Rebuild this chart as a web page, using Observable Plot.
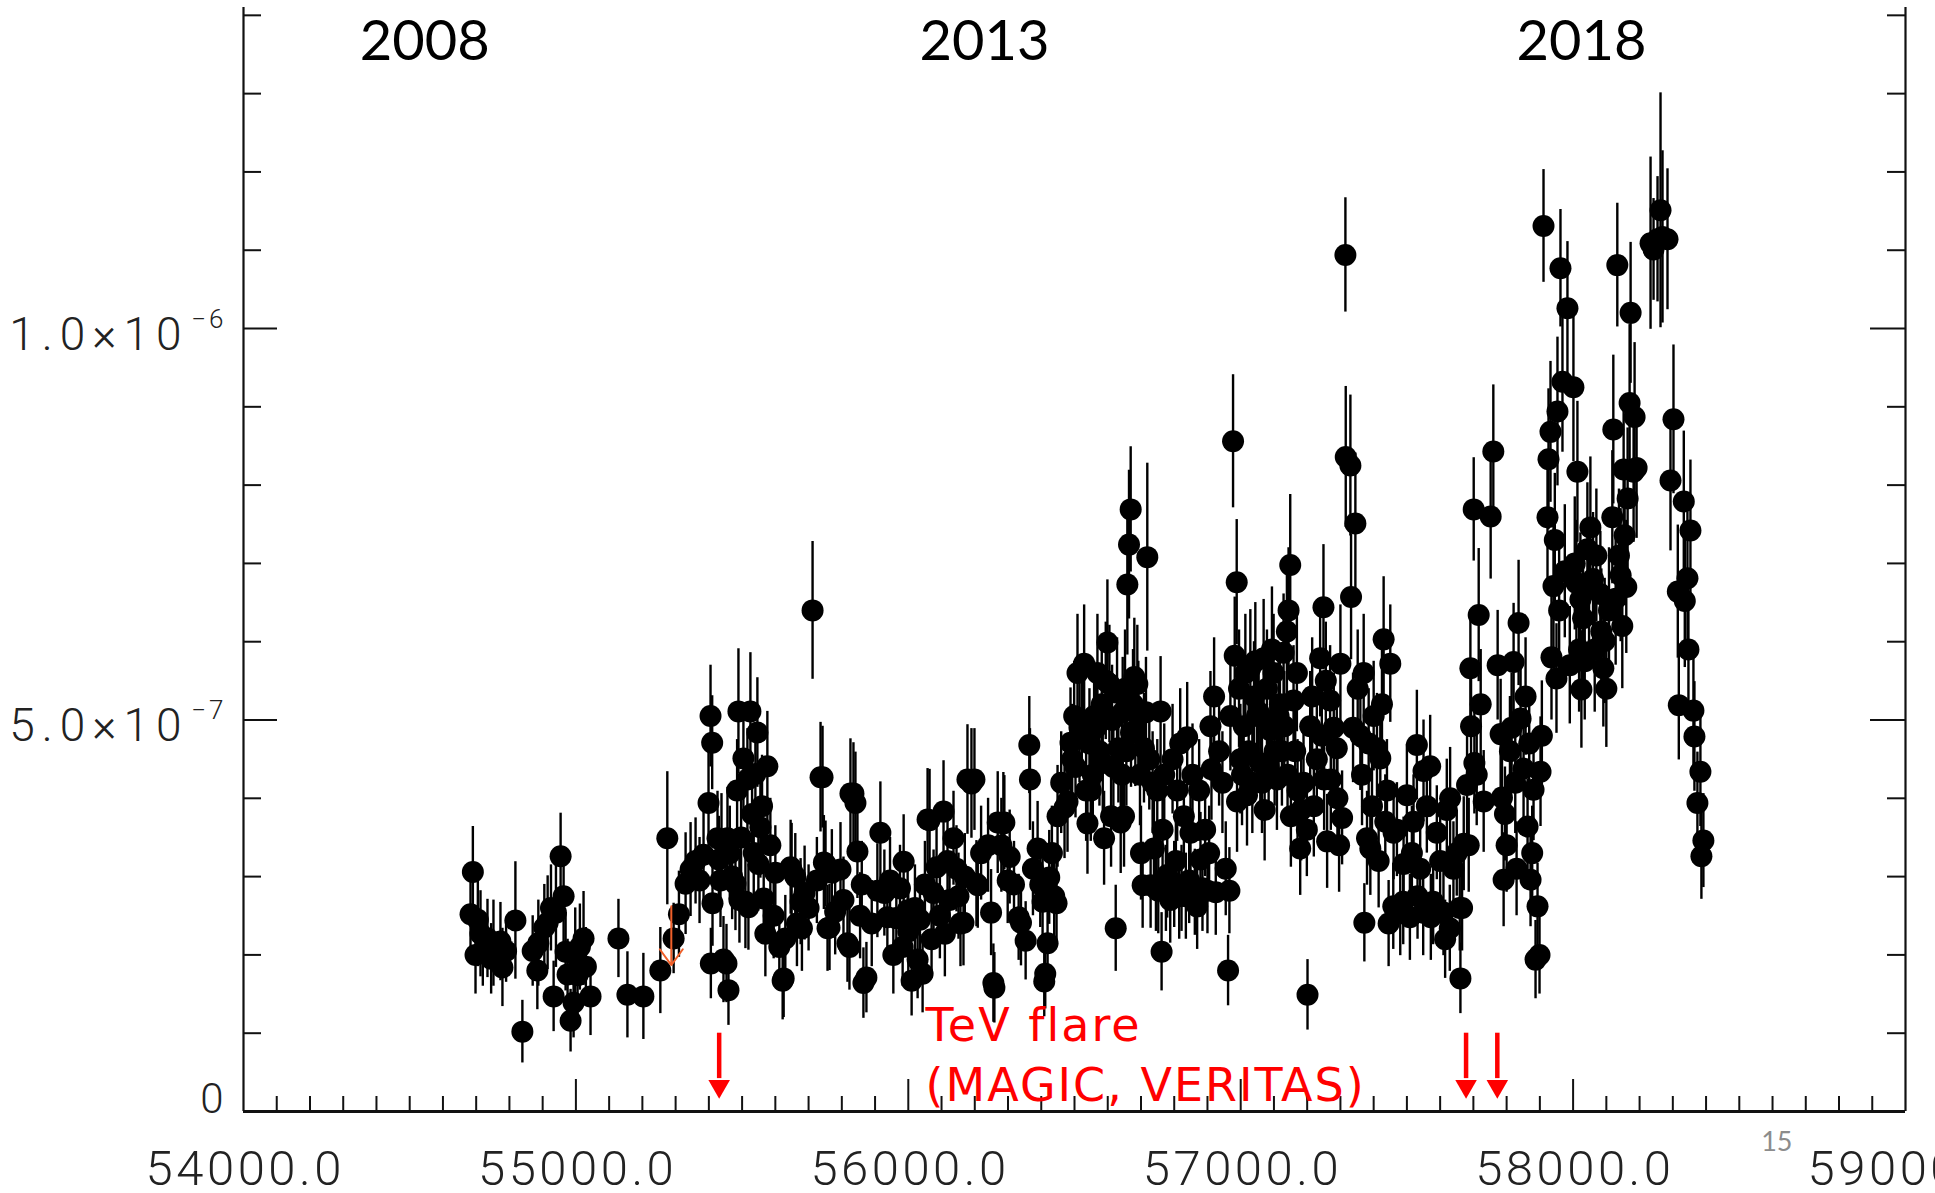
<!DOCTYPE html>
<html>
<head>
<meta charset="utf-8">
<script src="https://cdn.jsdelivr.net/npm/d3@7"></script>
<script src="https://cdn.jsdelivr.net/npm/@observablehq/plot@0.6"></script>
<style>
  html, body { margin: 0; padding: 0; background: #fff; overflow: hidden; }
</style>
</head>
<body>
<div id="chart"></div>
<script>
// Gamma-ray light curve, binned: [MJD, flux (1e-7 ph cm^-2 s^-1), 1-sigma error]
const lc2008 = [
  [54683,2.52,.55],[54690,3.06,.58],[54698,2.00,.50],[54705,2.45,.60],[54713,2.27,.55],[54720,2.05,.45],
  [54734,2.21,.50],[54745,1.95,.45],[54752,2.15,.55],[54773,2.17,.50],[54779,1.84,.50],[54790,2.05,.40],
  [54818,2.44,.75],[54839,1.02,.40],[54870,2.05,.45],[54884,1.80,.50],[54887,2.15,.55],[54905,2.35,.55],
  [54915,2.41,.60],[54925,2.60,.55],[54933,1.47,.45],[54940,2.54,.70],[54954,3.26,.55],[54963,2.75,.60],
  [54969,2.04,.50],[54975,1.75,.45],[54984,1.16,.40],[54993,1.39,.45],[54998,2.00,.60],[55005,1.74,.50],
  [55012,2.10,.55],[55023,2.21,.60],[55030,1.85,.50],[55044,1.47,.50],[55128,2.21,.50],[55155,1.49,.55],
  [55203,1.47,.55],[55254,1.80,.55],[55275,3.49,.85],[55294,2.21,.45],[55310,2.52,.55],[55330,2.91,.65],
  [55345,3.09,.60],[55360,3.20,.55],[55372,2.95,.55],[55384,3.28,.60],[55399,3.94,.65]
];
const lc2010 = [
  [55405,5.05,.65],[55406,1.89,.45],[55410,4.71,.60],[55411,2.66,.55],[55426,3.49,.60],[55430,3.22,.55],
  [55435,2.95,.60],[55438,3.46,.60],[55444,1.94,.55],[55453,1.89,.50],[55456,3.49,.65],[55459,1.55,.45],
  [55463,3.30,.60],[55470,3.00,.55],[55480,2.91,.60],[55485,4.10,.65],[55489,5.11,.80],[55492,2.70,.55],
  [55497,3.50,.60],[55504,4.51,.70],[55510,2.68,.60],[55516,4.24,.65],[55519,2.61,.55],[55525,5.11,.75],
  [55530,3.80,.70],[55535,3.30,.60],[55540,4.31,.65],[55546,4.84,.70],[55549,3.16,.60],[55555,3.63,.65],
  [55560,3.90,.65],[55565,2.72,.55],[55570,2.27,.55],[55576,4.41,.70],[55585,3.40,.60],[55595,2.50,.55],
  [55600,3.05,.60],[55612,2.10,.50],[55622,1.67,.50],[55625,1.70,.50],[55630,2.21,.55],[55646,3.12,.60],
  [55649,3.08,.60],[55660,3.00,.55],[55665,2.40,.55],[55676,2.68,.55],[55680,2.34,.55],[55688,2.79,.60],
  [55700,2.60,.55],[55712,6.40,.88],[55725,2.95,.55],[55736,4.27,.70],[55742,4.27,.65],[55746,3.18,.60],
  [55751,3.16,.55],[55757,2.34,.55],[55763,2.35,.55],[55770,3.05,.55],[55780,2.55,.55],[55796,3.09,.60],
  [55805,2.70,.55],[55817,2.15,.50],[55823,2.10,.55],[55826,4.06,.70],[55835,4.06,.65],[55841,3.94,.65],
  [55847,3.32,.60],[55855,2.50,.55],[55860,2.90,.55],[55865,1.64,.45],[55874,1.71,.45],[55890,2.40,.55],
  [55907,2.82,.60],[55916,3.56,.65],[55928,2.79,.55],[55937,2.48,.55],[55945,2.95,.55],[55955,2.00,.50],
  [55964,2.47,.55],[55975,2.85,.55],[55983,2.10,.50],[55986,3.19,.60],[55998,2.57,.55],[56000,2.30,.55],
  [56010,1.67,.45],[56020,2.60,.55],[56028,1.94,.50],[56035,2.45,.55],[56043,1.76,.50],[56050,2.90,.55],
  [56058,3.73,.65],[56064,3.72,.65],[56070,2.20,.50],[56076,2.79,.55],[56085,3.12,.60],[56095,2.50,.55],
  [56106,3.83,.65],[56110,2.27,.55],[56118,3.20,.60],[56124,2.70,.55],[56136,3.49,.60],[56145,3.10,.55],
  [56151,2.75,.55],[56157,2.40,.55],[56166,2.41,.55],[56170,3.00,.55],[56178,4.24,.70]
];
const lc2013 = [
  [56190,4.19,.70],[56199,4.24,.65],[56205,2.91,.55],[56209,2.89,.55],[56219,3.30,.60],[56240,3.40,.60],
  [56249,2.54,.55],[56256,1.64,.50],[56259,1.58,.45],[56269,3.69,.65],[56280,3.40,.60],[56286,3.68,.65],
  [56289,3.69,.60],[56299,2.95,.55],[56305,3.25,.60],[56318,2.90,.55],[56332,2.48,.55],[56339,2.41,.55],
  [56353,2.18,.50],[56364,4.68,.62],[56366,4.24,.65],[56375,3.10,.60],[56389,3.36,.60],[56397,2.90,.55],
  [56404,2.68,.55],[56409,1.66,.45],[56412,1.76,.45],[56419,2.15,.50],[56424,2.99,.60],[56432,3.30,.60],
  [56439,2.75,.55],[56446,2.66,.55],[56449,3.77,.65],[56460,4.20,.65],[56470,3.88,.65],[56479,3.96,.65],
  [56488,4.71,.70],[56493,4.50,.70],[56499,5.05,.70],[56503,4.40,.65],[56509,5.60,.75],[56515,4.90,.70],
  [56522,5.00,.70],[56529,5.72,.75],[56535,4.10,.65],[56539,3.68,.65],[56545,4.70,.70],[56549,4.10,.65],
  [56555,4.30,.65],[56559,5.05,.70],[56565,4.90,.70],[56569,5.60,.75],[56575,4.60,.70],[56582,5.20,.70],
  [56585,4.45,.65],[56589,3.49,.60],[56594,5.50,.75],[56599,5.99,.80],[56605,5.46,.75],[56610,3.77,.65],
  [56613,5.00,.70],[56617,4.40,.65],[56624,2.34,.55],[56628,5.35,.70],[56632,4.64,.70],[56639,3.69,.65],
  [56643,4.30,.65],[56645,5.10,.70],[56649,3.77,.65],[56652,5.40,.75],[56656,4.60,.70],[56659,6.73,.90],
  [56664,7.24,.95],[56669,7.69,.80],[56670,4.84,.70],[56676,5.20,.70],[56680,5.55,.75],[56683,4.85,.70],
  [56689,5.46,.75],[56692,5.05,.70],[56697,4.30,.65],[56700,3.30,.60],[56705,2.89,.55],[56709,4.64,.70],
  [56715,5.10,.70],[56719,7.08,1.20],[56725,4.50,.65],[56729,2.89,.55],[56735,4.20,.65],[56739,3.36,.60],
  [56745,2.85,.55],[56749,4.10,.65],[56752,2.82,.55],[56759,5.11,.70],[56762,2.04,.50],[56765,3.60,.60],
  [56770,4.30,.65],[56775,2.85,.55],[56779,3.02,.55],[56788,2.70,.55],[56795,4.50,.70],[56800,2.90,.55],
  [56805,3.20,.60],[56809,4.10,.65],[56815,2.75,.55],[56818,4.70,.70],[56822,2.85,.55],[56829,3.77,.60],
  [56835,2.75,.55],[56839,4.78,.70],[56845,2.95,.55],[56849,3.56,.60],[56855,4.30,.65],[56862,2.80,.55],
  [56869,2.62,.55],[56875,4.10,.65],[56879,3.22,.60],[56885,2.85,.55],[56893,3.60,.60],[56900,2.82,.55],
  [56905,3.30,.60],[56909,4.92,.70],[56912,4.37,.65],[56920,5.30,.75],[56925,2.80,.55],[56935,4.60,.70],
  [56945,4.20,.65],[56955,3.10,.60]
];
const lc2015 = [
  [56962,1.80,.45],[56966,2.82,.55],[56969,5.05,.70],[56977,8.56,.85],[56982,5.82,.75],[56988,6.76,.80],
  [56989,3.96,.65],[56995,5.40,.75],[56999,4.50,.70],[57004,4.30,.65],[57009,4.92,.70],[57014,5.60,.75],
  [57019,4.04,.65],[57024,4.60,.70],[57029,5.66,.75],[57035,4.20,.65],[57040,5.30,.70],[57044,5.75,.75],
  [57049,5.05,.70],[57054,5.10,.70],[57059,4.45,.70],[57064,4.20,.65],[57069,5.79,.75],[57072,3.85,.65],
  [57079,5.40,.75],[57084,4.40,.65],[57089,4.87,.70],[57094,5.90,.80],[57099,5.60,.75],[57102,4.60,.70],
  [57109,4.24,.65],[57114,5.05,.70],[57118,5.20,.70],[57124,4.60,.70],[57129,5.86,.75],[57131,4.92,.70],
  [57139,6.13,.80],[57141,4.30,.65],[57144,6.40,.80],[57149,6.98,.90],[57151,3.77,.65],[57159,5.25,.70],
  [57164,4.60,.70],[57169,5.60,.75],[57171,4.10,.65],[57179,3.36,.60],[57182,3.85,.65],[57189,4.20,.65],
  [57199,3.60,.60],[57201,1.49,.45],[57209,4.92,.70],[57215,5.30,.75],[57220,3.90,.65],[57229,4.50,.70],
  [57239,5.79,.75],[57244,4.80,.70],[57249,6.44,.80],[57251,4.24,.65],[57256,5.50,.75],[57260,3.45,.60],
  [57269,5.25,.70],[57271,4.24,.65],[57280,4.90,.70],[57289,4.64,.70],[57291,4.00,.65],[57296,3.40,.60],
  [57300,5.72,.75],[57305,3.75,.60],[57315,10.94,.73],[57316,8.36,.90],[57330,8.25,.90],[57332,6.57,.80],
  [57338,4.90,.70],[57345,7.51,.90],[57352,5.40,.75],[57360,4.80,.70],[57365,4.30,.65],[57370,5.60,.75],
  [57372,2.41,.50],[57380,3.49,.60],[57385,4.70,.70],[57390,3.36,.60],[57395,3.90,.65],[57400,5.05,.70],
  [57410,4.64,.70],[57415,3.20,.60],[57420,4.51,.65],[57425,5.20,.70],[57430,6.03,.80],[57435,3.70,.60],
  [57440,4.10,.65],[57445,2.40,.55],[57450,5.72,.75],[57459,2.62,.55],[57460,3.56,.60],[57470,3.60,.60],
  [57480,2.54,.55],[57489,2.68,.55],[57490,3.16,.60],[57500,4.04,.65],[57509,2.48,.55],[57515,3.30,.60],
  [57520,3.70,.60],[57530,4.68,.70],[57532,2.75,.55],[57540,3.10,.55],[57549,2.54,.55],[57550,4.35,.65],
  [57560,3.90,.60],[57570,4.41,.65],[57572,2.48,.55],[57579,2.68,.55],[57590,3.56,.60],[57600,3.20,.55],
  [57610,2.54,.55],[57615,2.20,.50],[57620,3.85,.65],[57629,2.34,.55],[57630,4.00,.65],[57640,3.10,.60],
  [57650,3.30,.55],[57659,2.60,.55],[57661,1.70,.45],[57666,2.60,.55],[57671,3.42,.60],[57681,4.17,.65],
  [57686,3.40,.60],[57691,5.66,.75],[57693,4.92,.70],[57701,7.69,.66],[57703,4.45,.65],[57710,4.30,.65],
  [57716,6.34,.85],[57722,5.20,.70],[57731,3.96,.65]
];
const lc2017 = [
  [57752,7.60,.80],[57760,8.43,.85],[57773,5.70,.70],[57782,4.82,.70],[57786,4.01,.65],[57791,2.96,.60],
  [57795,3.80,.60],[57800,3.40,.60],[57810,4.60,.70],[57815,4.90,.70],[57821,5.74,.75],[57826,4.20,.65],
  [57830,3.10,.60],[57836,6.24,.80],[57842,5.02,.70],[57851,4.38,.70],[57857,5.30,.75],[57863,3.64,.60],
  [57868,4.70,.70],[57872,2.96,.60],[57877,3.30,.60],[57881,4.11,.65],[57887,1.94,.50],[57893,2.62,.55],
  [57899,2.00,.50],[57902,4.34,.70],[57906,4.80,.70],[57911,11.31,.72],[57923,7.59,.85],[57926,8.33,.90],
  [57932,8.68,.90],[57935,5.80,.80],[57941,6.71,.85],[57945,7.30,.85],[57950,5.53,.70],[57953,8.94,.95],
  [57958,6.40,.85],[57962,10.77,.75],[57968,9.32,.90],[57975,6.90,.85],[57983,10.26,.85],[57990,5.70,.75],
  [58001,9.25,.95],[58005,7.00,.85],[58010,6.75,.80],[58013,8.17,.90],[58018,5.90,.80],[58022,6.54,.85],
  [58025,5.39,.75],[58030,6.30,.80],[58035,5.75,.75],[58043,7.18,.85],[58048,6.70,.85],[58052,7.46,.90],
  [58060,6.80,.85],[58065,5.90,.80],[58070,7.10,.85],[58082,6.61,.80],[58085,6.13,.80],[58091,5.66,.75],
  [58095,6.01,.80],[58100,5.40,.75],[58108,6.40,.80],[58118,7.59,.85],[58121,8.71,.95],[58128,6.55,.85],
  [58133,10.81,.79],[58138,7.10,.85],[58143,6.85,.85],[58148,6.20,.80],[58152,8.20,.90],[58155,7.36,.90],
  [58160,6.70,.85],[58164,7.83,.90],[58170,9.05,1.00],[58173,10.20,.90],[58182,8.17,.90],[58185,8.87,.95],
  [58191,8.22,.90],[58233,11.09,1.10],[58242,11.01,.65],[58254,11.14,.80],[58263,11.51,1.50],[58269,11.17,1.10],
  [58284,11.14,.90],[58293,8.06,.90],[58302,8.84,.95],[58315,6.64,.85],[58318,5.19,.70],[58333,7.79,.90],
  [58336,6.52,.85],[58344,6.81,.85],[58347,5.90,.80],[58353,7.42,.90],[58362,5.12,.70],[58365,4.79,.70],
  [58374,3.94,.65],[58383,4.34,.70],[58386,3.26,.55],[58392,3.46,.60]
];

// Upper limit (flux from → to, 1e-7 units)
const upperLimit = [{mjd: 55287, from: 2.62, to: 1.87}];

// TeV flare epochs and the arrow extent (flux units)
const flareMjd = [55431, 57678, 57772];
const arrowTop = 1.0, arrowTip = 0.17;
const flareNote = [{mjd: 56052, flux: 0.14, label: "TeV flare\n(MAGIC, VERITAS)"}];

// Year markers along the top
const years = ["2008", "2013", "2018"];
const yearMjd = [54545, 56229, 58025];

// Axis ticks and labels
const xLabelValues = [54000, 55000, 56000, 57000, 58000, 59000];
const xMajor = [55000, 56000, 57000, 58000];
const xMinor = d3.range(54100, 59000, 100).filter(d => d % 1000 !== 0);
const yMajor = [5, 10];
const yMinor = [1, 2, 3, 4, 6, 7, 8, 9, 11, 12, 13, 14];
const yLabels = [
  {v: 5, main: "5.0×10", exp: "−7"},
  {v: 10, main: "1.0×10", exp: "−6"}
];
const pageNumber = [{mjd: 58613, label: "15"}];

const rows = [...lc2008, ...lc2010, ...lc2013, ...lc2015, ...lc2017]
  .map(([mjd, flux, err]) => ({mjd, flux, err}));

const W = 1935, H = 1193;
const mL = 243, mR = 30, mT = 7, mB = 82;
const frameW = W - mL - mR;
const frameH = H - mT - mB;

const tickFont = "Roboto, 'Liberation Sans', sans-serif";
const axisInk = "#111";

// letter spacing (px) for the wide axis lettering and the note
const xLabelSpacing = 3.5, yLabelSpacing = 7, expSpacing = 3, noteSpacing = 2;

const chart = Plot.plot({
  width: W,
  height: H,
  marginLeft: mL,
  marginRight: mR,
  marginTop: mT,
  marginBottom: mB,
  x: {domain: [54000, 59000], axis: null},
  y: {domain: [0, 14.1], axis: null},
  style: {background: "#fff", overflow: "visible"},
  marks: [
    // frame: left, right and bottom axes
    Plot.ruleX([54000, 59000], {x: d => d, stroke: axisInk, strokeWidth: 2.2}),
    Plot.ruleY([0], {y: d => d, stroke: axisInk, strokeWidth: 2.8}),

    // inward ticks, left axis
    Plot.tickY(yMinor, {y: d => d, insetRight: frameW - 18, stroke: axisInk, strokeWidth: 2}),
    Plot.tickY(yMajor, {y: d => d, insetRight: frameW - 34, stroke: axisInk, strokeWidth: 2}),
    // inward ticks, right axis
    Plot.tickY(yMinor, {y: d => d, insetLeft: frameW - 18, stroke: axisInk, strokeWidth: 2}),
    Plot.tickY(yMajor, {y: d => d, insetLeft: frameW - 35, stroke: axisInk, strokeWidth: 2}),
    // inward ticks, bottom axis
    Plot.tickX(xMinor, {x: d => d, insetTop: frameH - 15, stroke: axisInk, strokeWidth: 2}),
    Plot.tickX(xMajor, {x: d => d, insetTop: frameH - 32, stroke: axisInk, strokeWidth: 2}),

    // x tick labels
    Plot.text(xLabelValues, {
      x: d => d, text: d => d.toFixed(1), frameAnchor: "bottom", dx: xLabelSpacing / 2, dy: 73, lineAnchor: "bottom",
      fontSize: 49, fontFamily: tickFont, fontWeight: 300, fill: "#222"
    }),
    // y tick labels with superscript exponent
    Plot.text(yLabels, {
      frameAnchor: "left", y: "v", text: "main", textAnchor: "end", dx: -62 + yLabelSpacing, dy: 21, lineAnchor: "bottom",
      fontSize: 46, fontFamily: tickFont, fontWeight: 300, fill: "#222"
    }),
    Plot.text(yLabels, {
      frameAnchor: "left", y: "v", text: "exp", textAnchor: "end", dx: -20 + expSpacing, dy: -1, lineAnchor: "bottom",
      fontSize: 26, fontFamily: tickFont, fontWeight: 300, fill: "#222"
    }),
    Plot.text([0], {
      frameAnchor: "left", y: d => d, text: () => "0", textAnchor: "end", dx: -20, dy: 1, lineAnchor: "bottom",
      fontSize: 42, fontFamily: tickFont, fontWeight: 300, fill: "#222"
    }),

    // error bars and points
    Plot.ruleX(rows, {x: "mjd", y1: d => d.flux - d.err, y2: d => d.flux + d.err, stroke: "#000", strokeWidth: 2.4}),
    Plot.dot(rows, {x: "mjd", y: "flux", r: 11, fill: "#000"}),

    // upper limit
    Plot.arrow(upperLimit, {
      x1: "mjd", x2: "mjd", y1: "from", y2: "to",
      stroke: "#f0602a", strokeWidth: 2, headLength: 25, headAngle: 72
    }),

    // TeV flare arrows
    Plot.ruleX(flareMjd, {x: d => d, y1: arrowTop, y2: arrowTip + 0.25, stroke: "#ff0000", strokeWidth: 4.5}),
    Plot.dot(flareMjd, {x: d => d, y: arrowTip, dy: -12, symbol: "triangle", rotate: 180, r: 8, fill: "#ff0000", stroke: "none"}),
    Plot.text(flareNote, {
      x: "mjd", y: "flux", text: "label", textAnchor: "start", lineAnchor: "bottom", lineHeight: 1.3,
      fontSize: 46, fontFamily: "'DejaVu Sans', sans-serif", fill: "#ff0000"
    }),

    // year markers
    Plot.text(years, {
      x: (d, i) => yearMjd[i], text: d => d, frameAnchor: "top", dy: 52, lineAnchor: "bottom",
      fontSize: 56, fontFamily: "Lato, 'Open Sans', sans-serif", fill: "#000"
    }),

    // page number
    Plot.text(pageNumber, {
      x: "mjd", text: "label", frameAnchor: "bottom", dy: 39, lineAnchor: "bottom",
      fontSize: 27, fontFamily: "Lato, 'Open Sans', sans-serif", fill: "#8c8c8c"
    })
  ]
});

// widen the axis lettering and the flare note
d3.select(chart).selectAll("text").each(function () {
  const t = this.textContent;
  let ls = 0;
  if (/^\d{5}\.0$/.test(t)) ls = xLabelSpacing;
  else if (t.includes("×10")) ls = yLabelSpacing;
  else if (/^−\d$/.test(t)) ls = expSpacing;
  else if (t.includes("VERITAS")) ls = noteSpacing;
  if (ls) this.style.letterSpacing = ls + "px";
});

document.getElementById("chart").appendChild(chart);
</script>
</body>
</html>
